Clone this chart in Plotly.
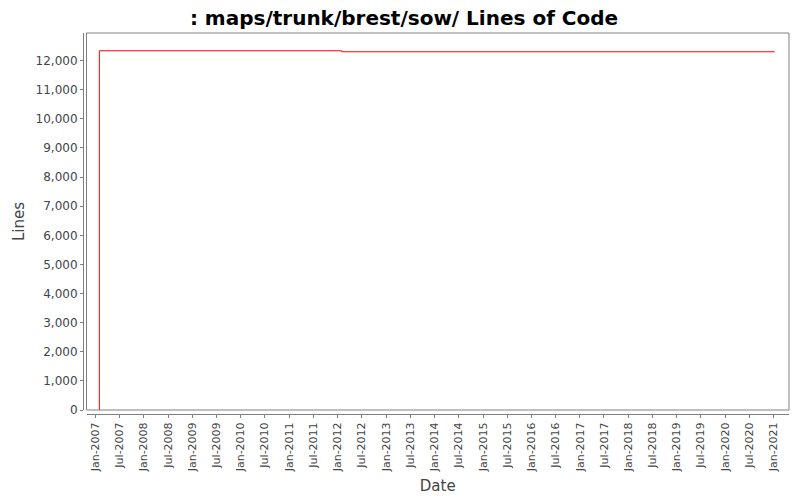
import plotly.graph_objects as go

# commit dates and line counts (step series, starts from 0 at first commit)
dates = ["2007-01-30", "2007-01-30", "2012-01-31", "2021-01-08"]
lines = [0, 12340, 12305, 12305]

title = ": maps/trunk/brest/sow/ Lines of Code"
x_range = ["2006-10-25", "2021-04-26"]
y_range = [0, 12950]

fig = go.Figure()
fig.add_trace(go.Scatter(x=dates, y=lines, mode="lines", line=dict(color="#ff0000", width=1, shape="hv"),
                         showlegend=False, hoverinfo="x+y"))

# page body has an 8px margin, so the figure is sized to fit inside the window
title_font = dict(family="DejaVu Sans", size=15, color="#444444")
fig.update_layout(
    width=792, height=492,
    paper_bgcolor="white", plot_bgcolor="white",
    margin=dict(l=75, r=11, t=25, b=86, autoexpand=False),
    title=dict(text="<b>" + title + "</b>", x=0.5, xanchor="center", y=0.994, yanchor="top",
               pad=dict(t=0), font=dict(family="DejaVu Sans", size=20, color="black")),
    xaxis=dict(domain=[3.5 / 706, 1], anchor="free", position=0, range=x_range, type="date",
               tick0="2007-01-01", dtick="M6", tickformat="%b-%Y", tickangle=-90,
               ticks="outside", ticklen=3, tickcolor="#808080", showgrid=False, zeroline=False,
               showline=True, linecolor="#808080", linewidth=1, automargin=False,
               tickfont=dict(family="DejaVu Sans", size=11, color="#444444"),
               title=dict(text="Date", font=title_font, standoff=9)),
    yaxis=dict(domain=[4 / 381, 1], anchor="free", position=0, range=y_range, dtick=1000,
               tickformat=",d", ticks="outside", ticklen=3, tickcolor="#808080", showgrid=False,
               zeroline=False, showline=True, linecolor="#808080", linewidth=1, automargin=False,
               tickfont=dict(family="DejaVu Sans", size=12, color="#444444"),
               title=dict(text="Lines", font=title_font, standoff=6)),
    shapes=[dict(type="rect", xref="x domain", yref="y domain", x0=0, x1=1, y0=0, y1=1,
                 line=dict(color="#808080", width=1), layer="above")],
)

fig.write_html("out.html")
